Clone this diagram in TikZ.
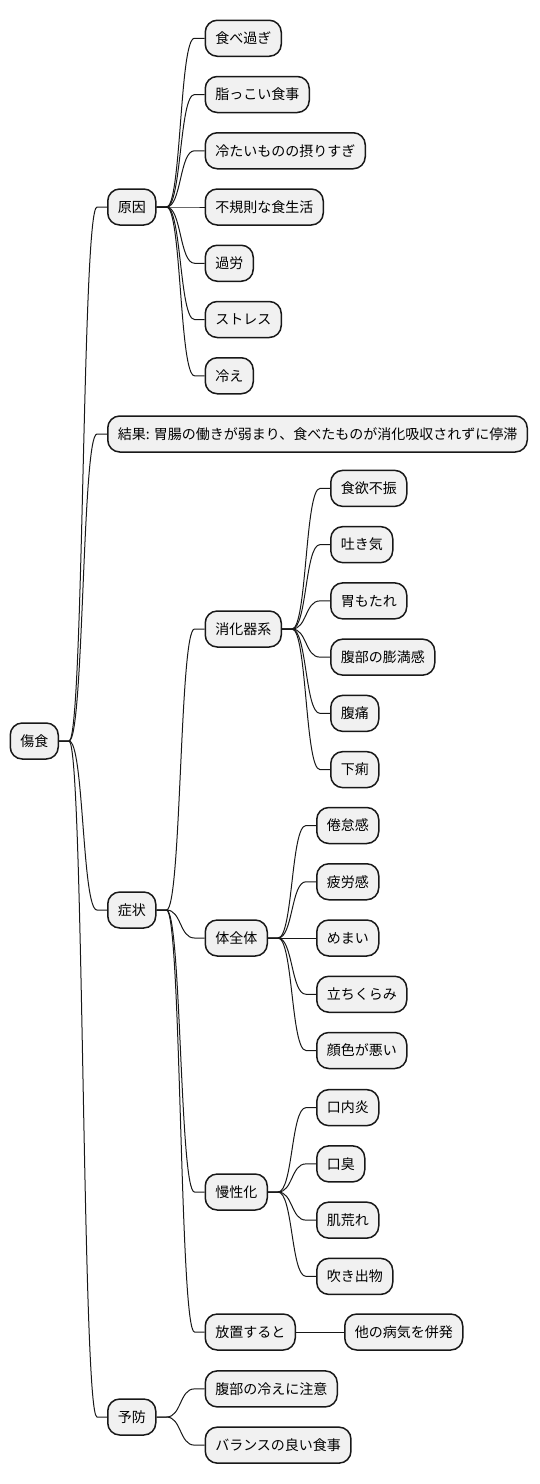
\documentclass[tikz,border=0pt]{standalone}
\usepackage{fontspec}
\setmainfont{Noto Sans CJK JP}
\usetikzlibrary{positioning}
\definecolor{boxfill}{HTML}{F1F1F1}
\definecolor{boxline}{HTML}{181818}

\begin{document}
\begin{tikzpicture}[
  x=1pt, y=-1pt,
  box/.style={draw=boxline, fill=boxfill, line width=1.5pt, rounded corners=12pt,
              minimum height=36pt, inner xsep=10pt, inner ysep=0pt,
              text height=12.3pt, text depth=1.7pt,
              font=\fontsize{14}{17}\selectfont},
  link/.style={draw=boxline, line width=1pt,
               to path={-- ++(10,0) .. controls +(15,0) and +(-15,0)
                        .. ([xshift=-10pt]\tikztotarget) -- (\tikztotarget)}}
]
\useasboundingbox (0,0) rectangle (540,1484);
\node[box, anchor=west] (shoku) at (9.5,741) {傷食};
\node[box, right=48pt of shoku, yshift=534pt]  (gen)  {原因};
\node[box, right=48pt of shoku, yshift=307pt]  (kek)  {結果: 胃腸の働きが弱まり、食べたものが消化吸収されずに停滞};
\node[box, right=48pt of shoku, yshift=-169pt] (sho)  {症状};
\node[box, right=48pt of shoku, yshift=-676pt] (yobo) {予防};
\node[box, right=48pt of gen, yshift=168.75pt]  (tabe)   {食べ過ぎ};
\node[box, right=48pt of gen, yshift=112.5pt]   (abura)  {脂っこい食事};
\node[box, right=48pt of gen, yshift=56.25pt]   (tsume)  {冷たいものの摂りすぎ};
\node[box, right=48pt of gen]                   (fuki)   {不規則な食生活};
\node[box, right=48pt of gen, yshift=-56.25pt]  (karo)   {過労};
\node[box, right=48pt of gen, yshift=-112.5pt]  (stress) {ストレス};
\node[box, right=48pt of gen, yshift=-168.75pt] (hie)    {冷え};
\node[box, right=48pt of sho, yshift=281pt]  (shoka) {消化器系};
\node[box, right=48pt of sho, yshift=-28pt]  (zen)   {体全体};
\node[box, right=48pt of sho, yshift=-282pt] (man)   {慢性化};
\node[box, right=48pt of sho, yshift=-422pt] (hochi) {放置すると};
\node[box, right=48pt of shoka, yshift=140.625pt]  (yoku)  {食欲不振};
\node[box, right=48pt of shoka, yshift=84.375pt]   (haki)  {吐き気};
\node[box, right=48pt of shoka, yshift=28.125pt]   (imo)   {胃もたれ};
\node[box, right=48pt of shoka, yshift=-28.125pt]  (bou)   {腹部の膨満感};
\node[box, right=48pt of shoka, yshift=-84.375pt]  (futsu) {腹痛};
\node[box, right=48pt of shoka, yshift=-140.625pt] (geri)  {下痢};
\node[box, right=48pt of zen, yshift=112.5pt]  (kentai) {倦怠感};
\node[box, right=48pt of zen, yshift=56.25pt]  (hiro)   {疲労感};
\node[box, right=48pt of zen]                  (memai)  {めまい};
\node[box, right=48pt of zen, yshift=-56.25pt] (tachi)  {立ちくらみ};
\node[box, right=48pt of zen, yshift=-112.5pt] (kao)    {顔色が悪い};
\node[box, right=48pt of man, yshift=84.375pt]  (konai)  {口内炎};
\node[box, right=48pt of man, yshift=28.125pt]  (koshu)  {口臭};
\node[box, right=48pt of man, yshift=-28.125pt] (hada)   {肌荒れ};
\node[box, right=48pt of man, yshift=-84.375pt] (fukide) {吹き出物};
\node[box, right=48pt of hochi] (heiha) {他の病気を併発};
\node[box, right=48pt of yobo, yshift=28.125pt]  (chui) {腹部の冷えに注意};
\node[box, right=48pt of yobo, yshift=-28.125pt] (bal)  {バランスの良い食事};
\draw[link] (shoku.east) to (gen.west);
\draw[link] (shoku.east) to (kek.west);
\draw[link] (shoku.east) to (sho.west);
\draw[link] (shoku.east) to (yobo.west);
\draw[link] (gen.east) to (tabe.west);
\draw[link] (gen.east) to (abura.west);
\draw[link] (gen.east) to (tsume.west);
\draw[link] (gen.east) to (fuki.west);
\draw[link] (gen.east) to (karo.west);
\draw[link] (gen.east) to (stress.west);
\draw[link] (gen.east) to (hie.west);
\draw[link] (sho.east) to (shoka.west);
\draw[link] (sho.east) to (zen.west);
\draw[link] (sho.east) to (man.west);
\draw[link] (sho.east) to (hochi.west);
\draw[link] (shoka.east) to (yoku.west);
\draw[link] (shoka.east) to (haki.west);
\draw[link] (shoka.east) to (imo.west);
\draw[link] (shoka.east) to (bou.west);
\draw[link] (shoka.east) to (futsu.west);
\draw[link] (shoka.east) to (geri.west);
\draw[link] (zen.east) to (kentai.west);
\draw[link] (zen.east) to (hiro.west);
\draw[link] (zen.east) to (memai.west);
\draw[link] (zen.east) to (tachi.west);
\draw[link] (zen.east) to (kao.west);
\draw[link] (man.east) to (konai.west);
\draw[link] (man.east) to (koshu.west);
\draw[link] (man.east) to (hada.west);
\draw[link] (man.east) to (fukide.west);
\draw[link] (hochi.east) to (heiha.west);
\draw[link] (yobo.east) to (chui.west);
\draw[link] (yobo.east) to (bal.west);
\end{tikzpicture}
\end{document}
